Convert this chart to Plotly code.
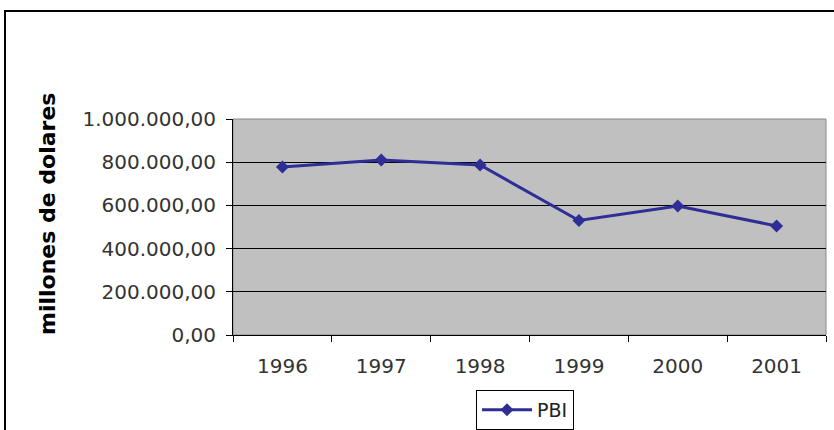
import plotly.graph_objects as go

years = ["1996", "1997", "1998", "1999", "2000", "2001"]
pbi = [778000, 810000, 787000, 530000, 597000, 505000]
y_ticks = [0, 200000, 400000, 600000, 800000, 1000000]
y_tick_labels = ["0,00", "200.000,00", "400.000,00", "600.000,00", "800.000,00", "1.000.000,00"]

W, H = 834, 430
L, R, T, B = 233, 8, 119, 95
pw = W - L - R
ph = H - T - B

def px_x(x):
    return (x - L) / pw

def px_y(y):
    return (H - B - y) / ph

fig = go.Figure()
fig.add_trace(go.Scatter(
    x=years, y=pbi, name="PBI", mode="lines+markers",
    line=dict(color="#2E2E96", width=3),
    marker=dict(symbol="diamond", size=10, color="#2E2E96"),
))

font = "DejaVu Sans, sans-serif"
fig.update_layout(
    width=W, height=H,
    margin=dict(l=L, r=R, t=T, b=B, autoexpand=False),
    paper_bgcolor="white",
    plot_bgcolor="#C0C0C0",
    showlegend=True,
    legend=dict(
        xref="container", yref="container",
        x=476 / W, y=1 - 390 / H, xanchor="left", yanchor="top",
        bordercolor="black", borderwidth=1, bgcolor="white",
        font=dict(family=font, size=19, color="#222"),
        itemwidth=50,
    ),
    xaxis=dict(
        type="category", showgrid=False, showline=True, linecolor="black", linewidth=1,
        ticks="outside", tickson="boundaries", ticklen=6, tickcolor="black",
        tickfont=dict(family=font, size=20, color="#333"),
        ticklabelstandoff=13,
        range=[-0.5, 5.5],
    ),
    yaxis=dict(
        range=[0, 1000000], tickvals=y_ticks, ticktext=y_tick_labels,
        showgrid=True, gridcolor="black", gridwidth=1,
        showline=True, linecolor="black", linewidth=1,
        ticks="outside", ticklen=6, tickcolor="black",
        tickfont=dict(family=font, size=20, color="#333"),
        ticklabelstandoff=6,
        zeroline=False,
    ),
    annotations=[dict(
        text="<b>millones de dolares</b>", textangle=-90,
        xref="paper", yref="paper", x=px_x(47), y=px_y(214),
        xanchor="center", yanchor="middle", showarrow=False,
        font=dict(family=font, size=22, color="black"),
    )],
)

fig.add_shape(type="rect", xref="paper", yref="paper",
              x0=px_x(5), x1=px_x(845), y0=px_y(445), y1=px_y(11),
              line=dict(color="black", width=2), fillcolor="rgba(0,0,0,0)", layer="above")
fig.add_shape(type="rect", xref="paper", yref="paper",
              x0=0, x1=1, y0=0, y1=1,
              line=dict(color="#888", width=1), fillcolor="rgba(0,0,0,0)", layer="below")

fig.write_html("out.html", config={"displayModeBar": False},
               post_script="document.body.style.margin='0';document.body.style.overflow='hidden';")
